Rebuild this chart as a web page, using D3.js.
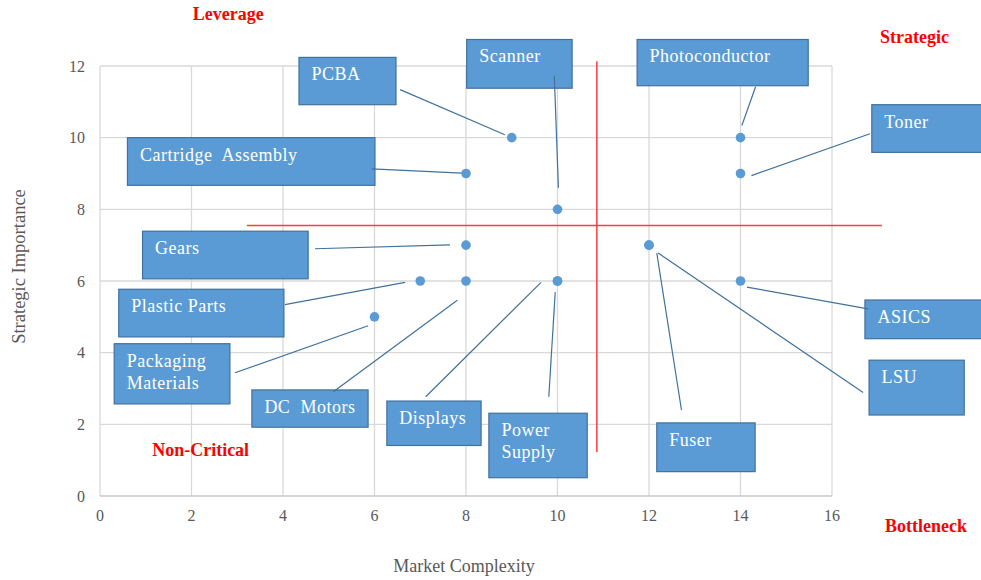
<!DOCTYPE html>
<html><head><meta charset="utf-8">
<script src="https://cdn.jsdelivr.net/npm/d3@7/dist/d3.min.js"></script>
<style>body{margin:0;background:#fff}svg{display:block}</style>
</head><body><svg id="c" width="981" height="580"></svg>
<script>
// ---- data ----
const labels = ["PCBA","Scanner","Photoconductor","Toner","Cartridge Assembly","Gears","Plastic Parts","Packaging Materials","DC Motors","Displays","Power Supply","Fuser","LSU","ASICS"];
const complexity = [9,10,14,14,8,8,7,6,8,10,10,12,12,14];
const importance = [10,8,10,9,9,7,6,5,6,6,6,7,7,6];
const xTicks = [0,2,4,6,8,10,12,14,16];
const yTicks = [0,2,4,6,8,10,12];
const quadrantNames = ["Leverage","Strategic","Non-Critical","Bottleneck"];
const dividerX = 10.86, dividerY = 7.55;

// ---- annotation layout (data units) ----
const labelLines = [["PCBA"],["Scanner"],["Photoconductor"],["Toner"],["Cartridge\u00a0 Assembly"],["Gears"],["Plastic Parts"],["Packaging","Materials"],["DC\u00a0 Motors"],["Displays"],["Power","Supply"],["Fuser"],["LSU"],["ASICS"]];
const boxes = [ // x0,x1,yTop,yBottom, leader x1,y1,x2,y2
 [4.35,6.47,12.24,10.92, 6.56,11.34,8.85,10.08],
 [8.015,10.32,12.74,11.38, 9.93,11.73,10.02,8.60],
 [11.74,15.48,12.74,11.45, 14.33,11.42,14.03,10.34],
 [16.87,19.9,10.92,9.59, 16.83,10.11,14.24,8.94],
 [0.60,6.01,10.0,8.67, 5.94,9.13,7.91,9.01],
 [0.93,4.55,7.39,6.06, 4.70,6.90,7.65,7.01],
 [0.41,4.02,5.77,4.44, 4.04,5.34,6.67,5.96],
 [0.31,2.84,4.25,2.57, 2.95,3.44,5.86,4.75],
 [3.32,5.86,2.96,1.92, 5.10,2.91,7.81,5.46],
 [6.27,8.33,2.65,1.41, 7.12,2.77,9.64,5.96],
 [8.50,10.65,2.31,0.51, 9.81,2.77,9.95,5.69],
 [12.17,14.32,2.04,0.68, 12.71,2.40,12.17,6.78],
 [16.81,18.89,3.79,2.26, 16.68,2.89,12.20,6.78],
 [16.72,19.9,5.47,4.39, 16.79,5.22,14.14,5.83]
];
const quadPos = [[2.03,13.27],[17.05,12.63],[1.14,1.117],[17.16,-1.006]];

const svg = d3.select("#c");
const x = d3.scaleLinear().domain([0,16]).range([100,832]);
const y = d3.scaleLinear().domain([0,12]).range([496,66]);
const serif = "'Liberation Serif','Times New Roman',serif";

// grid
svg.append("g").selectAll("line").data(xTicks).join("line")
  .attr("x1",d=>x(d)).attr("x2",d=>x(d)).attr("y1",y(0)).attr("y2",y(12))
  .attr("stroke","#d9d9d9").attr("stroke-width",1.3);
svg.append("g").selectAll("line").data(yTicks).join("line")
  .attr("x1",x(0)).attr("x2",x(16)).attr("y1",d=>y(d)).attr("y2",d=>y(d))
  .attr("stroke",d=>d===0?"#c8c8c8":"#d9d9d9").attr("stroke-width",1.3);

// tick labels
svg.append("g").selectAll("text").data(xTicks).join("text")
  .attr("x",d=>x(d)).attr("y",521).attr("text-anchor","middle")
  .attr("font-family",serif).attr("font-size",16).attr("fill","#595959").text(d=>d);
svg.append("g").selectAll("text").data(yTicks).join("text")
  .attr("x",85).attr("y",d=>y(d)+5.5).attr("text-anchor","end")
  .attr("font-family",serif).attr("font-size",16).attr("fill","#595959").text(d=>d);

// axis titles
svg.append("text").attr("x",464).attr("y",572).attr("text-anchor","middle")
  .attr("font-family",serif).attr("font-size",18).attr("fill","#595959").text("Market Complexity");
svg.append("text").attr("transform","translate(25,266.5) rotate(-90)").attr("text-anchor","middle")
  .attr("font-family",serif).attr("font-size",18.5).attr("fill","#595959").text("Strategic Importance");

// quadrant dividers
svg.append("line").attr("x1",x(dividerX)).attr("x2",x(dividerX)).attr("y1",y(12.13)).attr("y2",y(1.23))
  .attr("stroke","#ff3b3b").attr("stroke-width",1.5);
svg.append("line").attr("x1",x(3.21)).attr("x2",x(17.09)).attr("y1",y(dividerY)).attr("y2",y(dividerY))
  .attr("stroke","#ff3b3b").attr("stroke-width",1.5);

// quadrant names
svg.append("g").selectAll("text").data(quadrantNames).join("text")
  .attr("x",(d,i)=>x(quadPos[i][0])).attr("y",(d,i)=>y(quadPos[i][1]))
  .attr("font-family",serif).attr("font-size",18).attr("font-weight","bold").attr("fill","#ff0000").text(d=>d);

// callout boxes
const g = svg.append("g");
g.selectAll("rect").data(boxes).join("rect")
  .attr("x",b=>x(b[0])).attr("y",b=>y(b[2]))
  .attr("width",b=>x(b[1])-x(b[0])).attr("height",b=>y(b[3])-y(b[2]))
  .attr("fill","#5b9bd5").attr("stroke","#41719c").attr("stroke-width",1.2);
labels.forEach((name,i)=>{
  const b = boxes[i];
  const t = g.append("text").attr("font-family",serif).attr("font-size",18)
    .attr("letter-spacing",0.5).attr("fill","#ffffff");
  labelLines[i].forEach((ln,j)=>{
    t.append("tspan").attr("x",x(b[0])+12.5).attr("y",y(b[2])+23+j*22).text(ln);
  });
});

// leaders
svg.append("g").selectAll("line").data(boxes).join("line")
  .attr("x1",b=>x(b[4])).attr("y1",b=>y(b[5])).attr("x2",b=>x(b[6])).attr("y2",b=>y(b[7]))
  .attr("stroke","#41719c").attr("stroke-width",1.2);

// points
svg.append("g").selectAll("circle").data(labels).join("circle")
  .attr("cx",(d,i)=>x(complexity[i])).attr("cy",(d,i)=>y(importance[i])).attr("r",4.8)
  .attr("fill","#5b9bd5");
</script></body></html>
